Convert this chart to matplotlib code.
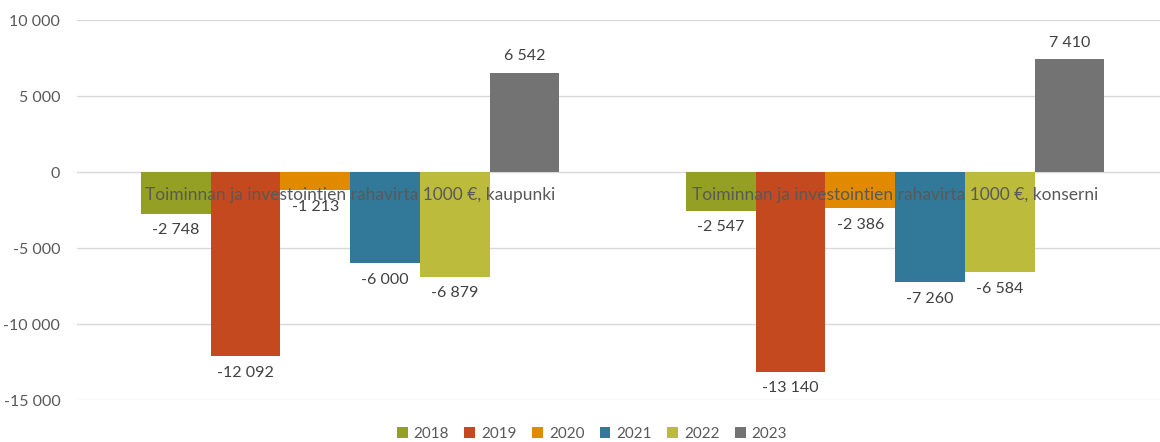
import matplotlib
matplotlib.use("Agg")
import matplotlib.pyplot as plt
import numpy as np

plt.rcParams["font.family"] = ["Lato", "DejaVu Sans"]

# Data
categories = [
    "Toiminnan ja investointien rahavirta 1000 €, kaupunki",
    "Toiminnan ja investointien rahavirta 1000 €, konserni",
]
years = ["2018", "2019", "2020", "2021", "2022", "2023"]
values = {
    "2018": [-2748, -2547],
    "2019": [-12092, -13140],
    "2020": [-1213, -2386],
    "2021": [-6000, -7260],
    "2022": [-6879, -6584],
    "2023": [6542, 7410],
}
colors = ["#93A024", "#C4491F", "#E18A00", "#327999", "#BDBB3B", "#737373"]
yticks = [-15000, -10000, -5000, 0, 5000, 10000]


def fmt(v):
    return f"{v:,}".replace(",", " ")


fig = plt.figure(figsize=(11.6, 4.42), dpi=100)
ax = fig.add_axes([77 / 1160, 42 / 442, 1083 / 1160, 380 / 442])

x = np.arange(len(categories))
w = 0.128
for i, (yr, col) in enumerate(zip(years, colors)):
    pos = x + (i - 2.5) * w
    bars = ax.bar(pos, values[yr], width=w, color=col, label=yr, zorder=2)
    ax.bar_label(bars, labels=[fmt(v) for v in values[yr]], padding=7,
                 fontsize=11.5, color="#404040")

ax.set_xlim(-0.501, 1.486)
ax.set_ylim(-15000, 10000)
ax.set_yticks(yticks)
ax.set_yticklabels([fmt(t) for t in yticks], fontsize=11.5, color="#595959")
ax.yaxis.grid(True, color="#D9D9D9", linewidth=1, zorder=0)
ax.set_axisbelow(True)
ax.set_xticks([])
ax.tick_params(axis="y", length=0, pad=12)
for s in ["top", "right", "left", "bottom"]:
    ax.spines[s].set_visible(False)

# category labels sit just under the zero line, on top of the bars
for xi, cat in zip(x, categories):
    ax.annotate(cat, xy=(xi, 0), xytext=(0, -11), textcoords="offset points",
                ha="center", va="top", fontsize=12.5, color="#595959",
                zorder=5)

fig.legend(loc="center", bbox_to_anchor=(592 / 1160, 8 / 442), ncol=6,
           frameon=False, fontsize=11, labelcolor="#595959",
           handlelength=0.7, handleheight=0.7, handletextpad=0.4,
           columnspacing=1.0)

fig.savefig("out.png", dpi=100)
